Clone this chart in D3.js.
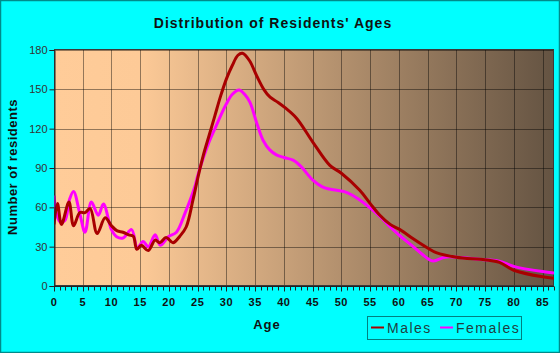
<!DOCTYPE html>
<html><head><meta charset="utf-8">
<script src="https://cdn.jsdelivr.net/npm/d3@7/dist/d3.min.js"></script>
<style>body{margin:0;background:#00FFFF;}svg{display:block;}</style>
</head><body>
<svg id="c" width="560" height="353"></svg>
<script>
const title = "Distribution of Residents' Ages";
const xLabel = "Age";
const yLabel = "Number of residents";
const xTicks = [0,5,10,15,20,25,30,35,40,45,50,55,60,65,70,75,80,85];
const yTicks = [0,30,60,90,120,150,180];
const seriesNames = ["Males","Females"];

const maleAges = [0,0.6,1.3,2.6,3.4,4.5,5.4,6.3,7.5,8.9,10,11,12,13,13.8,14.4,15.2,16.4,17.6,18.4,19.5,20.7,21.9,23,24.2,25,26,27,28,29,30,31,32,32.8,34,35.3,36.5,37.6,39,40.2,42.2,45,48,50,53.2,55,56.7,58.5,60.2,62.5,65,66.5,70,75,77.5,80,85,87];
const maleValues = [47,63,47,64,46,56,56,59,40,52,46,42,41,39,38,28,31,27,35,33,37,33,38,45,66,82,100,115,130,145,158,168,176,177.5,172,160,150,144,140,136,128,110,92,86,73,63,54,47,43,36,29,25.5,22,20,18,12,7,6];

const femaleAges = [0,1,1.9,2.7,3.4,4.5,5.4,6.5,7.7,8.6,10,10.9,12,13.5,14.5,15.5,16.4,17.6,18.5,19.9,21.3,22.8,24.5,25,26,27,28,29,30,31,32.2,33.2,34.1,35.3,36.4,37.5,38.7,40,41.6,43,45,47,49.2,50.5,52,54,56.7,58.5,60,62.5,65,66,68,70,75,77.5,80,85,87];
const femaleValues = [69,49,50,66,72,55,41,64,54,62.5,43,37.6,36.6,43,29,34,30,39,31,37.6,41,55.6,75.7,84,98,110,120,130,139,146,149.5,146,140,124,111,104,100,98,96,91,81,75,73,72,69,63,53,45,39,30,21,19,22,22,20,19,15,11,10];

const W = 560, H = 353;
const L = 54, R = 554, T = 49, B = 286;
const svg = d3.select("#c");

svg.append("rect").attr("x",0.5).attr("y",0.5).attr("width",W-1).attr("height",H-1)
  .attr("fill","#00FFFF").attr("stroke","#008B8B").attr("stroke-width",1.5);

const x = d3.scaleLinear().domain([0,87]).range([L,R]);
const y = d3.scaleLinear().domain([0,180]).range([B,50]);

const defs = svg.append("defs");
const g = defs.append("linearGradient").attr("id","bg").attr("x1","0%").attr("x2","100%").attr("y1","0%").attr("y2","0%");
g.append("stop").attr("offset","0%").attr("stop-color","#FFCC99");
g.append("stop").attr("offset","17%").attr("stop-color","#FDCA97");
g.append("stop").attr("offset","100%").attr("stop-color","#645342");
defs.append("clipPath").attr("id","clip").append("rect").attr("x",L).attr("y",T).attr("width",R-L).attr("height",B-T);

svg.append("rect").attr("x",L).attr("y",T).attr("width",R-L).attr("height",B-T).attr("fill","url(#bg)");

const grid = svg.append("g").attr("stroke","rgba(0,0,0,0.42)").attr("stroke-width",1);
xTicks.filter(d=>d>0).forEach(d=>{
  grid.append("line").attr("x1",Math.round(x(d))+0.5).attr("x2",Math.round(x(d))+0.5).attr("y1",T).attr("y2",B);
});
yTicks.filter(d=>d>0).forEach(d=>{
  grid.append("line").attr("x1",L).attr("x2",R).attr("y1",Math.round(y(d))+0.5).attr("y2",Math.round(y(d))+0.5);
});

svg.append("rect").attr("x",L+0.5).attr("y",T+0.5).attr("width",R-L-1).attr("height",B-T-1)
  .attr("fill","none").attr("stroke","#3a3a3a").attr("stroke-width",1);

const line = d3.line().x(d=>x(d[0])).y(d=>y(d[1])).curve(d3.curveCatmullRom.alpha(0.5));
const lines = svg.append("g").attr("clip-path","url(#clip)");
lines.append("path").datum(femaleAges.map((a,i)=>[a,femaleValues[i]]))
  .attr("d",line).attr("fill","none").attr("stroke","#FF00FF").attr("stroke-width",3).attr("stroke-linejoin","round");
lines.append("path").datum(maleAges.map((a,i)=>[a,maleValues[i]]))
  .attr("d",line).attr("fill","none").attr("stroke","#A80000").attr("stroke-width",3).attr("stroke-linejoin","round");

const yAxis = d3.axisLeft(y).tickValues(yTicks).tickSize(5).tickPadding(2);
const ya = svg.append("g").attr("transform",`translate(${L+0.5},0)`).call(yAxis);
ya.select(".domain").attr("stroke","#222");
ya.selectAll(".tick line").attr("stroke","#222");
ya.selectAll("text").attr("font-family","Liberation Sans, Arial, sans-serif").attr("font-size",11).attr("fill","#333");

const xa = svg.append("g").attr("transform",`translate(0,${B+0.5})`);
xa.append("line").attr("x1",L).attr("x2",R).attr("stroke","#222");
d3.range(0,88).forEach(d=>{
  xa.append("line").attr("x1",Math.round(x(d))+0.5).attr("x2",Math.round(x(d))+0.5)
    .attr("y1",0).attr("y2",d%5===0?5:4).attr("stroke","#222");
});
xa.selectAll("text.tl").data(xTicks).enter().append("text").attr("class","tl")
  .attr("x",d=>x(d)).attr("y",19).attr("text-anchor","middle")
  .attr("font-family","Liberation Sans, Arial, sans-serif").attr("font-size",11).attr("font-weight","bold")
  .attr("letter-spacing",0.5).attr("fill","#111").text(d=>d);

svg.append("text").attr("x",273).attr("y",28).attr("text-anchor","middle")
  .attr("font-family","Liberation Sans, Arial, sans-serif").attr("font-size",14).attr("font-weight","bold")
  .attr("letter-spacing",1).attr("fill","#111").text(title);
svg.append("text").attr("x",267).attr("y",329).attr("text-anchor","middle")
  .attr("font-family","Liberation Sans, Arial, sans-serif").attr("font-size",13).attr("font-weight","bold")
  .attr("letter-spacing",1).attr("fill","#111").text(xLabel);
svg.append("text").attr("transform","translate(17,167) rotate(-90)").attr("text-anchor","middle")
  .attr("font-family","Liberation Sans, Arial, sans-serif").attr("font-size",13).attr("font-weight","bold")
  .attr("letter-spacing",0.5).attr("fill","#111").text(yLabel);

const lg = svg.append("g");
lg.append("rect").attr("x",367.5).attr("y",316.5).attr("width",154).attr("height",23)
  .attr("fill","none").attr("stroke","#008080").attr("stroke-width",1);
const legendColors = ["#A80000","#FF00FF"];
const legendX = [371,440];
seriesNames.forEach((n,i)=>{
  lg.append("line").attr("x1",legendX[i]).attr("x2",legendX[i]+13).attr("y1",327.5).attr("y2",327.5)
    .attr("stroke",legendColors[i]).attr("stroke-width",2);
  lg.append("text").attr("x",legendX[i]+16).attr("y",333)
    .attr("font-family","Liberation Sans, Arial, sans-serif").attr("font-size",14)
    .attr("letter-spacing",1.5).attr("fill","#1f3f3f").text(n);
});
</script>
</body></html>
